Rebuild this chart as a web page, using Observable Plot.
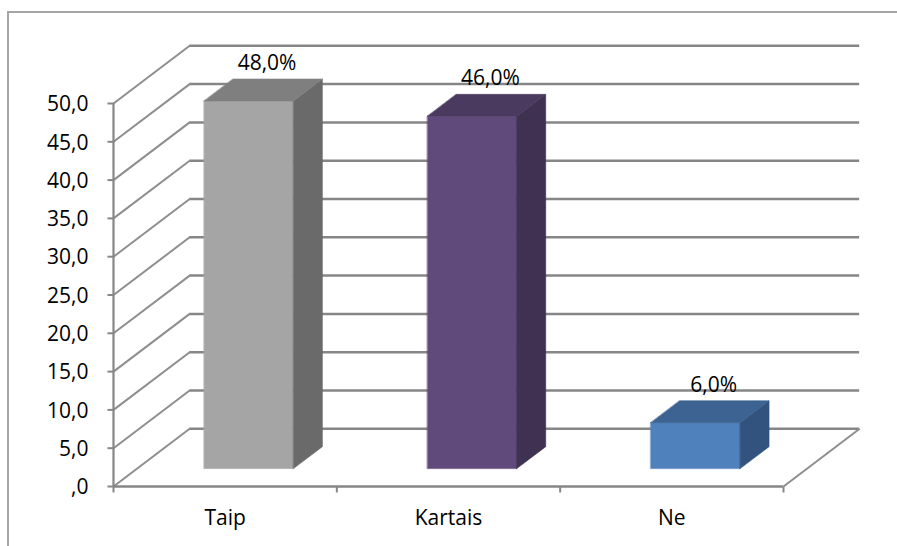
<!DOCTYPE html>
<html><head><meta charset="utf-8">
<script src="https://cdn.jsdelivr.net/npm/d3@7"></script>
<script src="https://cdn.jsdelivr.net/npm/@observablehq/plot@0.6"></script>
<style>
html,body{margin:0;padding:0;background:#fff;}
#wrap{position:relative;width:897px;height:546px;overflow:hidden;}
#border{position:absolute;left:7px;top:11px;width:1000px;height:1000px;border-left:2px solid #a6a6a6;border-top:2px solid #a6a6a6;}
#chart{position:absolute;left:0;top:0;}
</style></head><body>
<div id="wrap"><div id="border"></div><div id="chart"></div></div>
<script>
// ---- data ----
const categories = ["Taip", "Kartais", "Ne"];
const values = [48.0, 46.0, 6.0];
const valueLabels = ["48,0%", "46,0%", "6,0%"];
const yTicks = [0, 5, 10, 15, 20, 25, 30, 35, 40, 45, 50];
const yTickLabels = [",0", "5,0", "10,0", "15,0", "20,0", "25,0", "30,0", "35,0", "40,0", "45,0", "50,0"];
const xBoundaries = [0, 1, 2, 3];
const frontColors = ["#a5a5a5", "#604a7b", "#4f81bd"];
const topColors = ["#7f7f7f", "#4a3a5f", "#3c6391"];
const sideColors = ["#6a6a6a", "#3f3151", "#31537e"];

// ---- oblique 3D projection (in data units) ----
const DX = 0.341;   // x shift (category units) at full depth
const DV = 7.53;    // y shift (value units) at full depth
const ZF = 0.31, ZB = 0.69, HW = 0.2;
const TICK_X = 0.027, TICK_V = 0.78;
const P = (cx, v, z) => ({x: cx + z * DX, y: v + z * DV});

const faces = [];
categories.forEach((c, i) => {
  const v = values[i], x0 = i + 0.5 - HW, x1 = i + 0.5 + HW;
  const add = (key, color, pts) => pts.forEach(p => faces.push({key: c + key, color, ...p}));
  add("front", frontColors[i], [P(x0, 0, ZF), P(x1, 0, ZF), P(x1, v, ZF), P(x0, v, ZF)]);
  add("side", sideColors[i], [P(x1, 0, ZF), P(x1, 0, ZB), P(x1, v, ZB), P(x1, v, ZF)]);
  add("top", topColors[i], [P(x0, v, ZF), P(x1, v, ZF), P(x1, v, ZB), P(x0, v, ZB)]);
});
const labelPts = categories.map((c, i) => ({...P(i + 0.5, values[i], 0.55), y: values[i] + ZB * DV, text: valueLabels[i]}));

const grid = "#868686";
const diag = "#8e8e8e";
const font = "Open Sans";

const chart = Plot.plot({
  width: 897, height: 546,
  marginLeft: 113, marginRight: 114, marginTop: 103, marginBottom: 60,
  x: {domain: [0, 3], axis: null},
  y: {domain: [0, 50], axis: null},
  color: {type: "identity"},
  style: {fontFamily: font, background: "transparent"},
  marks: [
    // back wall gridlines
    Plot.ruleY(yTicks, {y: d => d + DV, x1: DX, x2: 3 + DX, stroke: grid, strokeWidth: 2.5}),
    // side wall diagonals
    Plot.link(yTicks, {x1: 0, y1: d => d, x2: DX, y2: d => d + DV, stroke: diag, strokeWidth: 2}),
    // floor edges
    Plot.ruleY([0], {x1: 0, x2: 3, stroke: grid, strokeWidth: 2.5}),
    Plot.link([0], {x1: 3, y1: 0, x2: 3 + DX, y2: DV, stroke: diag, strokeWidth: 2}),
    // left axis line and ticks
    Plot.ruleX([0], {y1: 0, y2: 50, stroke: grid, strokeWidth: 2.2}),
    Plot.link(yTicks, {x1: -TICK_X, x2: 0, y1: d => d, y2: d => d, stroke: grid, strokeWidth: 2}),
    Plot.link(xBoundaries, {x1: d => d, x2: d => d, y1: 0, y2: -TICK_V, stroke: grid, strokeWidth: 2}),
    // bars
    Plot.line(faces, {x: "x", y: "y", z: "key", fill: "color", stroke: "color", strokeWidth: 0.6, curve: "linear-closed"}),
    // y tick labels
    Plot.text(yTicks, {x: 0, y: d => d, text: (d, i) => yTickLabels[i], textAnchor: "end", dx: -25, dy: 1, fontSize: 21, fill: "#000", fontFamily: font}),
    // category labels
    Plot.text(categories, {x: (d, i) => i + 0.5, y: 0, text: d => d, lineAnchor: "top", dy: 24, fontSize: 21, fill: "#000", fontFamily: font}),
    // value labels
    Plot.text(labelPts, {x: "x", y: "y", text: "text", lineAnchor: "bottom", dy: -9, fontSize: 21, fill: "#000", fontFamily: font})
  ]
});
document.getElementById("chart").appendChild(chart);
</script>
</body></html>
